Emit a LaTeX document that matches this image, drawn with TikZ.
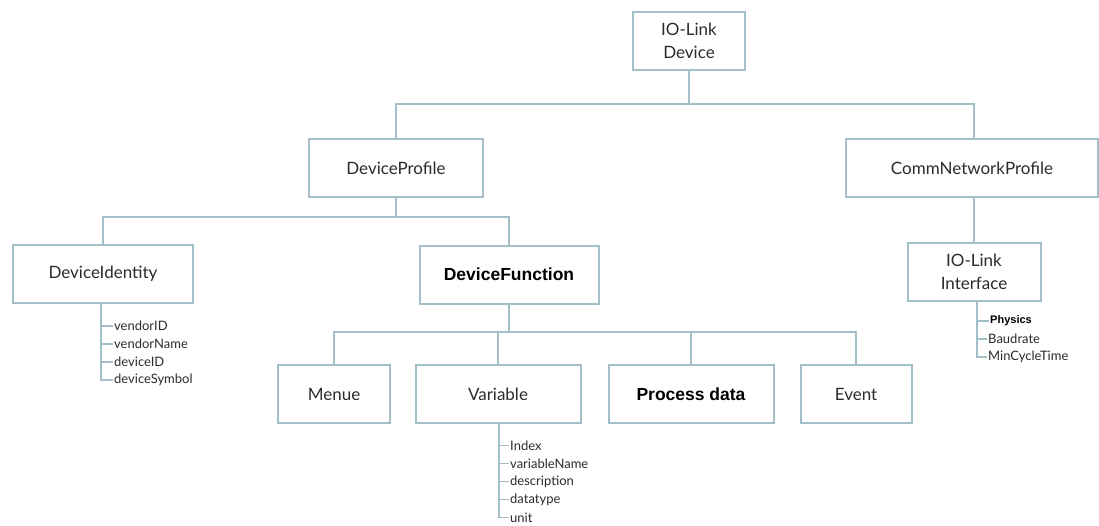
\documentclass[tikz,border=0pt]{standalone}
\usepackage{fontspec}
\usepackage{tikz}
\usetikzlibrary{calc}

\newfontfamily\gillfont{Lato}
\newfontfamily\arialfont{Liberation Sans}
\definecolor{boxline}{HTML}{A3BFC8}
\definecolor{labelgray}{HTML}{2B2B2B}

\tikzset{
  box/.style={draw=boxline, line width=2pt, fill=white, inner sep=0pt,
    minimum height=58pt, align=center, text=labelgray,
    font=\gillfont\fontsize{17}{23.5}\selectfont},
  boldbox/.style={box, text=black, font=\arialfont\bfseries\fontsize{17.5}{21}\selectfont},
  attr/.style={anchor=west, inner sep=1pt, text=labelgray,
    font=\gillfont\fontsize{13}{15}\selectfont},
  boldattr/.style={attr, text=black, font=\arialfont\bfseries\fontsize{11}{13}\selectfont},
  link/.style={draw=boxline, line width=2pt},
  thinlink/.style={draw=boxline, line width=1.3pt},
}

\begin{document}
\begin{tikzpicture}[x=1pt, y=-1pt]
\useasboundingbox (0,0) rectangle (1099,525);

 %% Top
\node[box, minimum width=112pt] (dev) at (689,41) {IO-Link\\Device};

 %% Profiles
\node[box, minimum width=174pt] (prof) at (396,168) {DeviceProfile};
\node[box, minimum width=252pt] (comm) at (972,168) {CommNetworkProfile};

 %% Third row
\node[box, minimum width=180pt] (ident) at (103,274) {DeviceIdentity};
\node[boldbox, minimum width=179pt] (func) at (509,274.5) {DeviceFunction};
\node[box, minimum width=133pt] (iface) at (974,272) {IO-Link\\Interface};

 %% Function parts
\node[box, minimum width=112pt] (menue) at (334,394) {Menue};
\node[box, minimum width=165pt] (var) at (498,394) {Variable};
\node[boldbox, minimum width=165pt] (proc) at (691,394) {Process data};
\node[box, minimum width=111pt] (event) at (856,394) {Event};

 %% Bus lines
\coordinate (busA) at (689,104);
\draw[link] (dev.south) -- (busA);
\draw[link] (prof.north) |- (busA -| iface.north) -- (comm.north -| iface.north);
\draw[link] (comm.south -| iface.north) -- (iface.north);

\coordinate (busB) at (396,217);
\draw[link] (prof.south) -- (busB);
\draw[link] (ident.north) |- (busB) -| (func.north);

\coordinate (busC) at (509,332);
\draw[link] (func.south) -- (busC);
\draw[link] (menue.north) |- (busC) -| (event.north);
\draw[link] (var.north) -- (var.north |- busC);
\draw[link] (proc.north) -- (proc.north |- busC);

 %% Attributes: DeviceIdentity
\foreach \t [count=\i] in {vendorID, vendorName, deviceID, deviceSymbol}
  \node[attr] (ida\i) at (113, 308+18*\i) {\t};
\foreach \i in {1,...,4}
  \draw[thinlink] ([xshift=-2pt]ident.south) |- (ida\i.west);

 %% Attributes: Variable
\foreach \t [count=\i] in {Index, variableName, description, datatype, unit}
  \node[attr] (va\i) at (509, 427.5+18*\i) {\t};
\foreach \i in {1,...,5}
  \draw[thinlink] ([xshift=1pt]var.south) |- (va\i.west);

 %% Attributes: IO-Link Interface
\node[boldattr] (ifa1) at (989,321) {Physics};
\node[attr] (ifa2) at (987,339) {Baudrate};
\node[attr] (ifa3) at (987,357) {MinCycleTime};
\foreach \i in {1,2,3}
  \draw[thinlink] ([xshift=3pt]iface.south) |- (ifa\i.west);

\end{tikzpicture}
\end{document}
